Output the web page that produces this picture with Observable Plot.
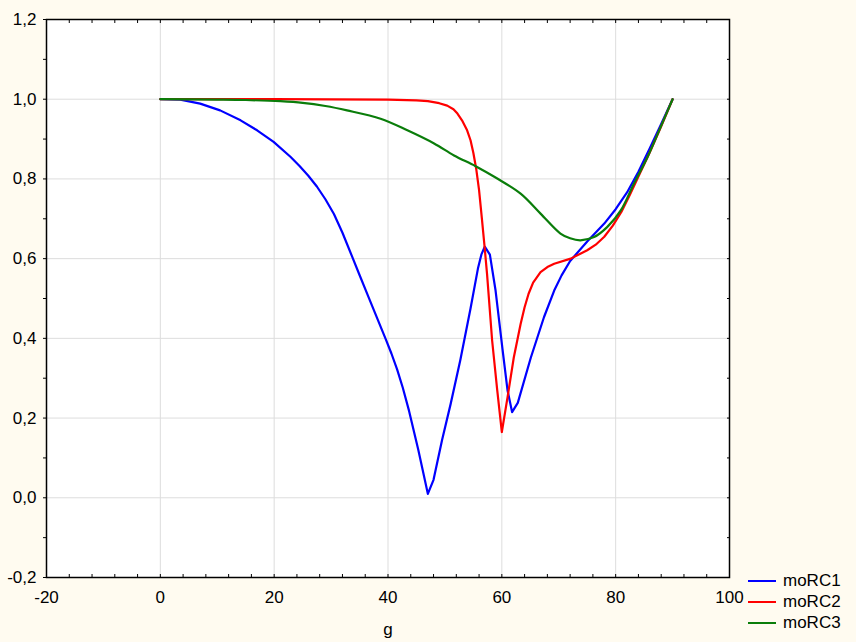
<!DOCTYPE html>
<html><head><meta charset="utf-8">
<script src="https://cdn.jsdelivr.net/npm/d3@7"></script>
<script src="https://cdn.jsdelivr.net/npm/@observablehq/plot@0.6"></script>
<style>
html,body{margin:0;padding:0;background:#FFFBF0;}
#wrap{position:relative;width:856px;height:642px;font-family:"Liberation Sans",Arial,sans-serif;}
#legend{position:absolute;left:748px;top:570px;font-size:17px;color:#000;}
.row{display:flex;align-items:center;height:21px;}
.sw{width:28px;height:2px;margin-right:7px;}
</style></head><body><div id="wrap"><div id="legend"></div></div>
<script>
const series = ["moRC1", "moRC2", "moRC3"];
const colors = ["#0000FF", "#FF0000", "#0A7D0A"];

const g1 = [0,3.5,7,10.5,14.1,17,19.9,22.9,24.5,26,27.5,29,30.5,32,33.7,35,36.6,38,39.6,40.6,41.6,42.6,43.7,45.3,47,48,49.5,51,52.7,54.5,55.8,56.4,57,57.9,58.9,60.1,61,61.8,62.8,65.1,67.4,69.2,70.5,72,75,78,80,82,84,86,88,90];
const moRC1 = [1.000,0.999,0.989,0.972,0.947,0.922,0.893,0.855,0.832,0.808,0.781,0.749,0.712,0.665,0.605,0.559,0.503,0.454,0.398,0.362,0.322,0.276,0.218,0.122,0.010,0.045,0.145,0.235,0.345,0.475,0.575,0.610,0.630,0.610,0.520,0.375,0.270,0.215,0.238,0.352,0.453,0.520,0.558,0.594,0.643,0.688,0.724,0.766,0.818,0.877,0.938,1.000];

const g2 = [0,20,40,45,47,49,50.4,51.5,52.2,53,53.9,54.5,55,55.5,56,56.5,57,57.4,58.3,59.2,60,61,62.1,63.3,64,64.7,65.5,66.8,68,69.2,72.1,75,76.5,78,79.5,81,82.5,84,86,88,90];
const moRC2 = [1.000,1.000,0.999,0.997,0.995,0.990,0.984,0.975,0.964,0.947,0.922,0.897,0.865,0.825,0.772,0.700,0.625,0.562,0.394,0.269,0.165,0.252,0.352,0.436,0.478,0.512,0.540,0.566,0.579,0.587,0.600,0.621,0.635,0.655,0.683,0.717,0.760,0.806,0.867,0.932,1.000];

const g3 = [0,10,15,21.1,25,29,32.8,38.7,43.4,48.1,51.6,55.4,59.2,63.3,66.8,70.3,72,73.8,76.2,78.5,80.9,83.2,85.6,87.9,90];
const moRC3 = [1.000,0.999,0.998,0.995,0.991,0.983,0.972,0.951,0.922,0.889,0.859,0.832,0.801,0.763,0.713,0.663,0.651,0.646,0.654,0.679,0.721,0.788,0.855,0.930,1.000];

const xTicks = [-20, 0, 20, 40, 60, 80, 100];
const yTicks = [-0.2, 0, 0.2, 0.4, 0.6, 0.8, 1.0, 1.2];
const xMinor = d3.range(-20, 101, 4);
const yMinor = d3.range(-2, 13).map(d => d / 10);

const toRows = (gs, vs, name) => gs.map((g, i) => ({g, v: vs[i], series: name}));
const rows1 = toRows(g1, moRC1, series[0]);
const rows2 = toRows(g2, moRC2, series[1]);
const rows3 = toRows(g3, moRC3, series[2]);

const blank = () => "";
const chart = Plot.plot({
  width: 856, height: 642,
  marginLeft: 46, marginRight: 127, marginTop: 19, marginBottom: 65,
  style: {background: "transparent", fontFamily: "'Liberation Sans', Arial, sans-serif", fontSize: "17px", color: "black", overflow: "visible"},
  x: {domain: [-20, 100]},
  y: {domain: [-0.2, 1.2]},
  color: {domain: series, range: colors},
  marks: [
    Plot.frame({fill: "white", stroke: null}),
    Plot.gridX(xTicks, {stroke: "#dddddd", strokeOpacity: 1}),
    Plot.gridY(yTicks, {stroke: "#dddddd", strokeOpacity: 1}),
    Plot.lineY(rows1, {x: "g", y: "v", stroke: "series", strokeWidth: 2.2}),
    Plot.lineY(rows2, {x: "g", y: "v", stroke: "series", strokeWidth: 2.2}),
    Plot.lineY(rows3, {x: "g", y: "v", stroke: "series", strokeWidth: 2.2, curve: "catmull-rom"}),
    Plot.frame({stroke: "black", strokeWidth: 1.5}),
    Plot.axisX(xTicks, {anchor: "bottom", tickSize: 0, tickPadding: 13, tickFormat: d => String(d), label: "g", labelAnchor: "center", labelOffset: 57, labelArrow: "none"}),
    Plot.axisY(yTicks, {anchor: "left", tickSize: 0, tickPadding: 10, tickFormat: d => d.toFixed(1).replace(".", ","), label: null}),
    Plot.axisX(xMinor, {anchor: "bottom", tickSize: 3, dy: -3, tickFormat: blank, label: null}),
    Plot.axisX(xMinor, {anchor: "top", tickSize: 3, dy: 3, tickFormat: blank, label: null}),
    Plot.axisY(yMinor, {anchor: "left", tickSize: 3, tickFormat: blank, label: null}),
    Plot.axisY(yMinor, {anchor: "right", tickSize: 3, dx: -3, tickFormat: blank, label: null})
  ]
});
document.getElementById("wrap").prepend(chart);

const legend = document.getElementById("legend");
series.forEach((s, i) => {
  const row = document.createElement("div");
  row.className = "row";
  const sw = document.createElement("div");
  sw.className = "sw";
  sw.style.background = colors[i];
  const t = document.createElement("span");
  t.textContent = s;
  row.append(sw, t);
  legend.append(row);
});
</script>
</body></html>
